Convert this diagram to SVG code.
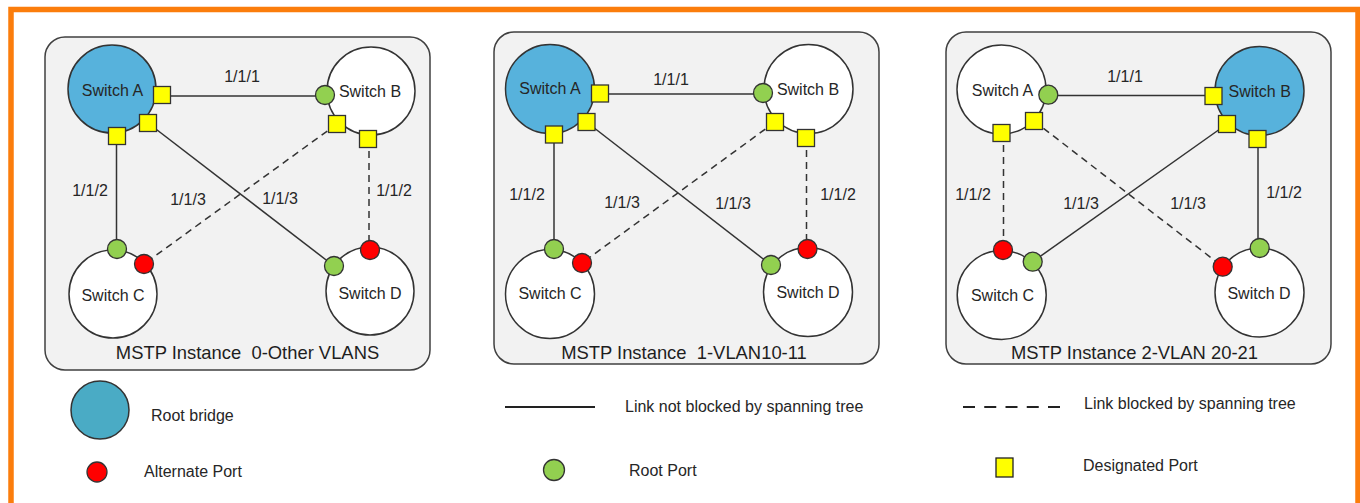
<svg xmlns="http://www.w3.org/2000/svg" width="1360" height="503" viewBox="0 0 1360 503">
<style>
text{font-family:"Liberation Sans",Arial,sans-serif;fill:#262626}
.lbl{font-size:16px;text-anchor:middle}
.ttl{font-size:18.4px;text-anchor:middle;fill:#1e1e1e;white-space:pre}
.leg{font-size:16px}
.panel{fill:#f2f2f2;stroke:#404040;stroke-width:1.5}
.sw{fill:#ffffff;stroke:#333333;stroke-width:1.5}
.root{fill:#57b2dc;stroke:#333333;stroke-width:1.5}
.dp{fill:#ffff00;stroke:#333333;stroke-width:1.3}
.rp{fill:#92d050;stroke:#333333;stroke-width:1.3}
.ap{fill:#ff0000;stroke:#333333;stroke-width:1.3}
.ln{stroke:#333333;stroke-width:1.5;fill:none}
.dash{stroke-dasharray:7 5}
</style>
<defs>
<rect id="sq" x="-8.5" y="-8.5" width="17" height="17"/>
</defs>
<rect x="11" y="9.5" width="1347" height="600" fill="none" stroke="#fb7d0c" stroke-width="5.5"/>

<!-- Panel 1 -->
<g id="panel1">
<rect class="panel" x="45" y="37" width="385" height="333" rx="20"/>
<text class="ttl" x="247.5" y="359" xml:space="preserve">MSTP Instance  0-Other VLANS</text>
</g>
<g id="p1-links">
<line class="ln" x1="162" y1="96" x2="325" y2="96"/>
<line class="ln" x1="116.5" y1="136" x2="116.5" y2="249"/>
<line class="ln" x1="148" y1="123" x2="334" y2="266"/>
<line class="ln dash" x1="337" y1="124" x2="144" y2="264"/>
<line class="ln dash" x1="369" y1="139" x2="369" y2="250"/>
<text class="lbl" x="242" y="82">1/1/1</text>
<text class="lbl" x="90" y="196">1/1/2</text>
<text class="lbl" x="188" y="205">1/1/3</text>
<text class="lbl" x="280" y="204">1/1/3</text>
<text class="lbl" x="394" y="196">1/1/2</text>
</g>
<g id="p1-switchA"><circle class="root" cx="112" cy="89" r="44"/><text class="lbl" x="112.5" y="96">Switch A</text></g>
<g id="p1-switchB"><circle class="sw" cx="371" cy="91" r="44"/><text class="lbl" x="370" y="97">Switch B</text></g>
<g id="p1-switchC"><circle class="sw" cx="113" cy="294" r="44"/><text class="lbl" x="113" y="301">Switch C</text></g>
<g id="p1-switchD"><circle class="sw" cx="370" cy="291" r="44"/><text class="lbl" x="370" y="299">Switch D</text></g>
<g id="p1-ports">
<use href="#sq" class="dp" x="162" y="95"/>
<use href="#sq" class="dp" x="148" y="123"/>
<use href="#sq" class="dp" x="117" y="136"/>
<use href="#sq" class="dp" x="337" y="124"/>
<use href="#sq" class="dp" x="368" y="139"/>
<circle class="rp" cx="325" cy="95" r="9.5"/>
<circle class="rp" cx="117" cy="249" r="9.5"/>
<circle class="ap" cx="144" cy="264" r="9.5"/>
<circle class="rp" cx="334" cy="266" r="9.5"/>
<circle class="ap" cx="370" cy="250" r="9.5"/>
</g>

<!-- Panel 2 -->
<g id="panel2">
<rect class="panel" x="494" y="32" width="385" height="332" rx="20"/>
<text class="ttl" x="684" y="359" xml:space="preserve">MSTP Instance  1-VLAN10-11</text>
</g>
<g id="p2-links">
<line class="ln" x1="600" y1="94" x2="763" y2="94"/>
<line class="ln" x1="554" y1="135" x2="554" y2="249"/>
<line class="ln" x1="586.5" y1="122" x2="771" y2="265"/>
<line class="ln dash" x1="775" y1="122" x2="582" y2="263"/>
<line class="ln dash" x1="806.5" y1="138" x2="806.5" y2="249"/>
<text class="lbl" x="671" y="85">1/1/1</text>
<text class="lbl" x="527" y="200">1/1/2</text>
<text class="lbl" x="622" y="208">1/1/3</text>
<text class="lbl" x="733" y="209">1/1/3</text>
<text class="lbl" x="838" y="200">1/1/2</text>
</g>
<g id="p2-switchA"><circle class="root" cx="550" cy="89" r="44.5"/><text class="lbl" x="550" y="94">Switch A</text></g>
<g id="p2-switchB"><circle class="sw" cx="808.5" cy="89" r="44.5"/><text class="lbl" x="808" y="95">Switch B</text></g>
<g id="p2-switchC"><circle class="sw" cx="550" cy="294" r="44.5"/><text class="lbl" x="550" y="299">Switch C</text></g>
<g id="p2-switchD"><circle class="sw" cx="808" cy="292" r="44.5"/><text class="lbl" x="808" y="298">Switch D</text></g>
<g id="p2-ports">
<use href="#sq" class="dp" x="600" y="93.5"/>
<use href="#sq" class="dp" x="586.5" y="122"/>
<use href="#sq" class="dp" x="554" y="134.5"/>
<use href="#sq" class="dp" x="775" y="122"/>
<use href="#sq" class="dp" x="806" y="138"/>
<circle class="rp" cx="763" cy="93" r="9.5"/>
<circle class="rp" cx="554" cy="249" r="9.5"/>
<circle class="ap" cx="582" cy="263" r="9.5"/>
<circle class="rp" cx="771" cy="265" r="9.5"/>
<circle class="ap" cx="807.5" cy="249" r="9.5"/>
</g>

<!-- Panel 3 -->
<g id="panel3">
<rect class="panel" x="946" y="32" width="385" height="332" rx="20"/>
<text class="ttl" x="1134.5" y="359">MSTP Instance 2-VLAN 20-21</text>
</g>
<g id="p3-links">
<line class="ln" x1="1048" y1="95.5" x2="1213.5" y2="95.5"/>
<line class="ln dash" x1="1003.5" y1="133" x2="1003.5" y2="250"/>
<line class="ln dash" x1="1034" y1="121" x2="1222.7" y2="266.7"/>
<line class="ln" x1="1227" y1="124" x2="1032.7" y2="261.7"/>
<line class="ln" x1="1258" y1="139" x2="1258" y2="248"/>
<text class="lbl" x="1125" y="82">1/1/1</text>
<text class="lbl" x="973" y="200">1/1/2</text>
<text class="lbl" x="1081" y="209">1/1/3</text>
<text class="lbl" x="1188" y="209">1/1/3</text>
<text class="lbl" x="1284" y="198">1/1/2</text>
</g>
<g id="p3-switchA"><circle class="sw" cx="1001.5" cy="89.5" r="44.5"/><text class="lbl" x="1002.5" y="96">Switch A</text></g>
<g id="p3-switchB"><circle class="root" cx="1259.5" cy="91" r="44.5"/><text class="lbl" x="1259.7" y="97">Switch B</text></g>
<g id="p3-switchC"><circle class="sw" cx="1001.7" cy="295" r="44.5"/><text class="lbl" x="1002.5" y="301">Switch C</text></g>
<g id="p3-switchD"><circle class="sw" cx="1259.5" cy="292.5" r="44.5"/><text class="lbl" x="1259" y="299">Switch D</text></g>
<g id="p3-ports">
<circle class="rp" cx="1048.3" cy="94.7" r="9.5"/>
<use href="#sq" class="dp" x="1034" y="121"/>
<use href="#sq" class="dp" x="1001.5" y="133"/>
<use href="#sq" class="dp" x="1213.5" y="96"/>
<use href="#sq" class="dp" x="1227" y="124"/>
<use href="#sq" class="dp" x="1257.5" y="139"/>
<circle class="ap" cx="1003" cy="250" r="9.5"/>
<circle class="rp" cx="1032.7" cy="261.7" r="9.5"/>
<circle class="ap" cx="1222.7" cy="266.7" r="9.5"/>
<circle class="rp" cx="1259.7" cy="248" r="9.5"/>
</g>

<!-- Legend -->
<g id="legend-root"><circle cx="100" cy="410" r="29" fill="#4aabc5" stroke="#333333" stroke-width="1.5"/><text class="leg" x="151" y="421">Root bridge</text></g>
<g id="legend-alt"><circle class="ap" cx="97" cy="472" r="10"/><text class="leg" x="144" y="477">Alternate Port</text></g>
<g id="legend-solid"><line x1="505" y1="407" x2="595" y2="407" stroke="#222" stroke-width="2"/><text class="leg" x="625" y="412">Link not blocked by spanning tree</text></g>
<g id="legend-rp"><circle class="rp" cx="554" cy="470" r="10.5"/><text class="leg" x="629" y="476">Root Port</text></g>
<g id="legend-dash"><line x1="963" y1="407" x2="1060" y2="407" stroke="#222" stroke-width="2" stroke-dasharray="12 9.25"/><text class="leg" x="1084" y="409">Link blocked by spanning tree</text></g>
<g id="legend-dp"><rect x="996" y="458" width="17" height="19" fill="#ffff00" stroke="#222" stroke-width="1.3"/><text class="leg" x="1083" y="471">Designated Port</text></g>
</svg>
